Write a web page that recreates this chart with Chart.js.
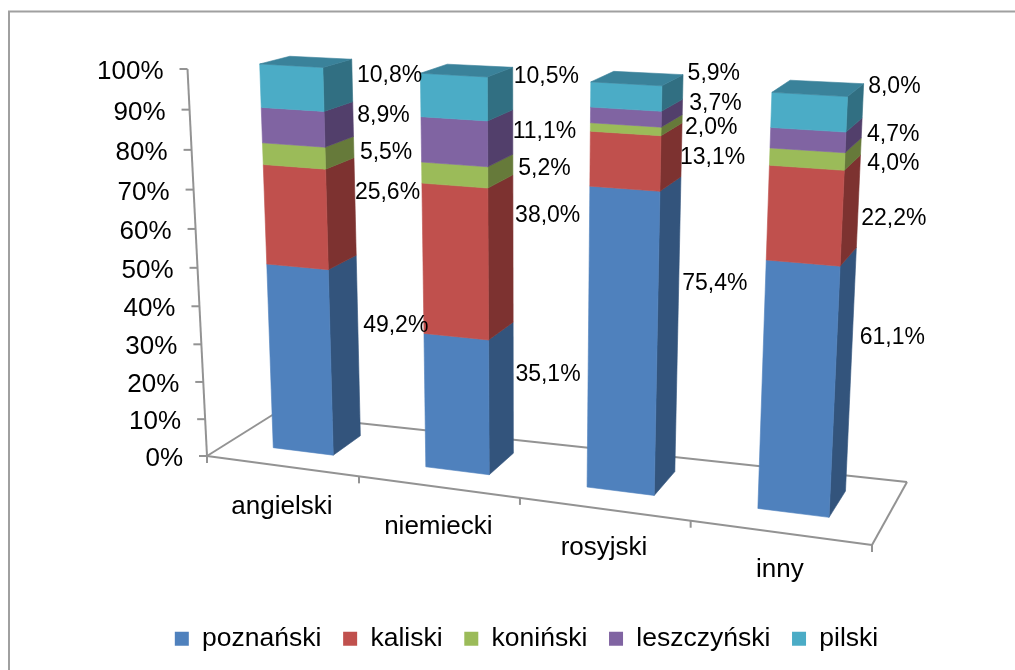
<!DOCTYPE html>
<html><head><meta charset="utf-8">
<style>html,body{margin:0;padding:0;background:#fff;overflow:hidden}canvas{display:block}</style>
<script src="https://cdn.jsdelivr.net/npm/chart.js@4"></script>
</head><body><canvas id="c" width="1015" height="670"></canvas>
<script>
const categories = ['angielski','niemiecki','rosyjski','inny'];
const seriesNames = ['poznański','kaliski','koniński','leszczyński','pilski'];
const poznanski = [49.2,35.1,75.4,61.1];
const kaliski = [25.6,38.0,13.1,22.2];
const koninski = [5.5,5.2,2.0,4.0];
const leszczynski = [8.9,11.1,3.7,4.7];
const pilski = [10.8,10.5,5.9,8.0];
const seriesValues = [poznanski,kaliski,koninski,leszczynski,pilski];
const frontColors = ['#4F81BD','#C0504D','#9BBB59','#8064A2','#4BACC6'];
const sideColors = ['#33547C','#7D3230','#667A3A','#523F6B','#316F82'];
const topColor = '#3A829A';
const axisColor = '#939393';
const FONT = '"Liberation Sans", Arial, sans-serif';

// Camera of the pseudo-3D box: where the unit plot square lands on the front and back walls
const frontWall = [[207,456],[872,545],[894.5,110],[189.5,67]];
const backWall = [[274,414],[907,482],[928,79],[261.5,50]];
const axisWall = [[207,456],[872,545],[892.5,112],[187.5,69]];
const barDepth = [0.33,0.76];
const labelDepth = 0.72;
// Hand-placed data labels: offset from each segment's side face, per series and category
const labelNudges = [
  [[10,-25],[7,-17],[9,-47],[13,-38]],
  [[5,-17],[7,-37],[3,5],[7,14]],
  [[5,2],[4,1],[1,6],[4,14]],
  [[3,-6],[4,-4],[5,-6],[3,3]],
  [[10,-8],[6,-15],[3,-16],[3,-18]]
];

function homography(q){
  const [[x0,y0],[x1,y1],[x2,y2],[x3,y3]] = q;
  const sx=x0-x1+x2-x3, sy=y0-y1+y2-y3, dx1=x1-x2, dx2=x3-x2, dy1=y1-y2, dy2=y3-y2;
  const den=dx1*dy2-dx2*dy1, g=(sx*dy2-dx2*sy)/den, h=(dx1*sy-sx*dy1)/den;
  const a=x1-x0+g*x1, b=x3-x0+h*x3, d=y1-y0+g*y1, e=y3-y0+h*y3;
  return (u,v)=>{const w=g*u+h*v+1;return [(a*u+b*v+x0)/w,(d*u+e*v+y0)/w];};
}
const hF=homography(frontWall), hB=homography(backWall), hA=homography(axisWall);
function project(u,v,z){const f=hF(u,v),b=hB(u,v);return [f[0]+(b[0]-f[0])*z,f[1]+(b[1]-f[1])*z];}

function poly(ctx,pts,fill){
  ctx.beginPath();pts.forEach((p,i)=>i?ctx.lineTo(p[0],p[1]):ctx.moveTo(p[0],p[1]));ctx.closePath();
  ctx.fillStyle=fill;ctx.fill();ctx.strokeStyle=fill;ctx.lineWidth=0.6;ctx.stroke();
}
function line(ctx,a,b,w){ctx.beginPath();ctx.moveTo(a[0],a[1]);ctx.lineTo(b[0],b[1]);ctx.strokeStyle=axisColor;ctx.lineWidth=w||2;ctx.stroke();}

const box3d = {
  id:'box3d',
  beforeDraw(chart){
    const c=chart.ctx;c.save();c.fillStyle='#fff';c.fillRect(0,0,1015,670);
    c.strokeStyle='#A0A0A0';c.lineWidth=2;c.strokeRect(9,11.5,1040,700);c.restore();
  },
  beforeDatasetsDraw(chart){
    const c=chart.ctx,a=chart.chartArea,ys=chart.scales.y,xs=chart.scales.x;
    const U=x=>(x-a.left)/a.width, V=y=>(a.bottom-y)/a.height;
    c.save();
    // floor
    line(c,project(0,0,0),project(0,0,1));line(c,project(0,0,1),project(1,0,1));
    line(c,project(1,0,1),project(1,0,0));line(c,project(0,0,0),project(1,0,0));
    // y axis
    line(c,hA(0,0),hA(0,1));
    c.font='26px '+FONT;c.fillStyle='#000';c.textAlign='right';c.textBaseline='middle';
    ys.ticks.forEach(t=>{
      const p=hA(0,V(ys.getPixelForValue(t.value)));
      line(c,p,[p[0]-8,p[1]]);
      c.fillStyle='#000';c.fillText(t.label,p[0]-24,p[1]+3);
    });
    // x axis ticks + labels
    c.textAlign='center';
    categories.forEach((n,i)=>{
      const p0=project(i/4,0,0);line(c,p0,[p0[0],p0[1]+7]);
      if(i==3){const e=project(1,0,0);line(c,e,[e[0],e[1]+7]);}
      const u=U(xs.getPixelForValue(i)),m=project(u,0,0);
      c.fillStyle='#000';c.fillText(xs.getLabelForValue(i),m[0]+0,m[1]+42-6*u);
    });
    // bars
    categories.forEach((n,i)=>{
      chart.data.datasets.forEach((ds,k)=>{
        const el=chart.getDatasetMeta(k).data[i];
        const uL=U(el.x-el.width/2),uR=U(el.x+el.width/2),v0=V(el.base),v1=V(el.y);
        poly(c,[project(uR,v0,barDepth[0]),project(uR,v0,barDepth[1]),project(uR,v1,barDepth[1]),project(uR,v1,barDepth[0])],sideColors[k]);
        poly(c,[project(uL,v0,barDepth[0]),project(uR,v0,barDepth[0]),project(uR,v1,barDepth[0]),project(uL,v1,barDepth[0])],frontColors[k]);
        if(k==chart.data.datasets.length-1)
          poly(c,[project(uL,v1,barDepth[0]),project(uR,v1,barDepth[0]),project(uR,v1,barDepth[1]),project(uL,v1,barDepth[1])],topColor);
      });
    });
    // data labels
    c.font='23px '+FONT;c.fillStyle='#000';
    chart.data.datasets.forEach((ds,k)=>{
      categories.forEach((n,i)=>{
        const el=chart.getDatasetMeta(k).data[i];
        const p=project(U(el.x+el.width/2),V((el.y+el.base)/2),labelDepth);
        const nudge=labelNudges[k][i];
        c.fillText(ds.data[i].toFixed(1).replace('.',',')+'%',p[0]+30+nudge[0],p[1]+2+nudge[1]);
      });
    });
    c.restore();
    return false;
  }
};

new Chart(document.getElementById('c'),{
  type:'bar',
  plugins:[box3d],
  data:{labels:categories,datasets:seriesNames.map((n,k)=>({label:n,data:seriesValues[k],backgroundColor:frontColors[k]}))},
  options:{
    responsive:false,animation:false,
    layout:{padding:{left:38,right:0,top:60,bottom:8}},
    plugins:{
      tooltip:{enabled:false},
      legend:{position:'bottom',labels:{boxWidth:14,boxHeight:14,padding:21.75,color:'#000',font:{family:FONT,size:26.5}}}
    },
    scales:{
      x:{stacked:true,display:false,grid:{display:false}},
      y:{stacked:true,display:false,min:0,max:100,ticks:{stepSize:10,callback:v=>v+'%'}}
    },
    datasets:{bar:{categoryPercentage:0.4,barPercentage:1}}
  }
});
</script></body></html>
